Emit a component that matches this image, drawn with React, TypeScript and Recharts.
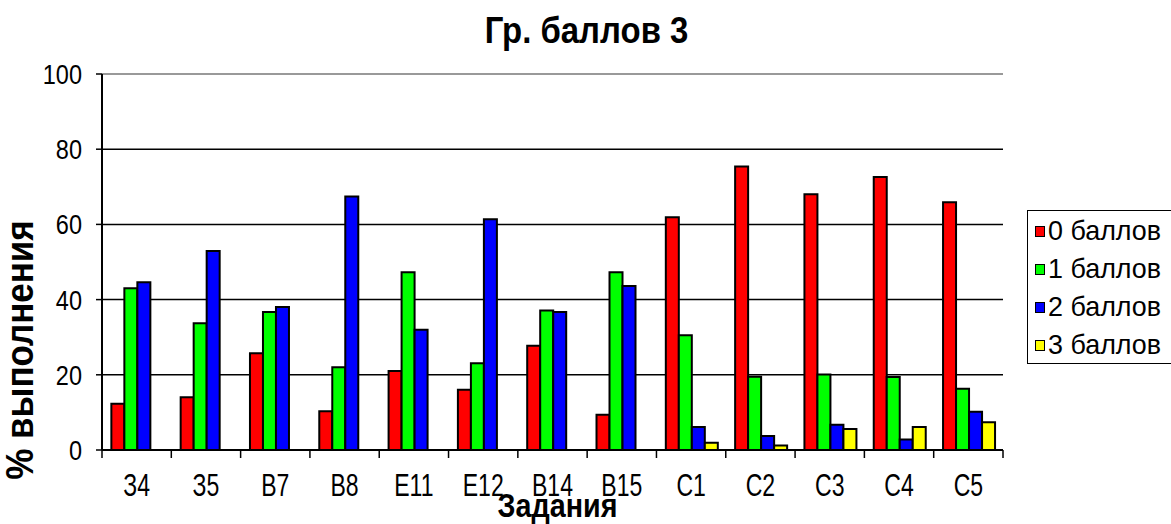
import { BarChart, Bar, XAxis, YAxis, CartesianGrid, Legend, ReferenceLine } from 'recharts';

const tasks = ['З4', 'З5', 'В7', 'В8', 'Е11', 'Е12', 'В14', 'В15', 'С1', 'С2', 'С3', 'С4', 'С5'];
const score0 = [12.3, 14.0, 25.7, 10.3, 21.0, 16.0, 27.7, 9.4, 61.9, 75.4, 68.0, 72.6, 65.9];
const score1 = [43.0, 33.7, 36.7, 22.0, 47.3, 23.1, 37.1, 47.3, 30.5, 19.5, 20.1, 19.4, 16.3];
const score2 = [44.6, 52.9, 38.0, 67.4, 32.0, 61.4, 36.7, 43.6, 6.1, 3.7, 6.7, 2.8, 10.2];
const score3 = [0, 0, 0, 0, 0, 0, 0, 0, 1.9, 1.2, 5.6, 6.1, 7.4];

const seriesNames = ['0 баллов', '1 баллов', '2 баллов', '3 баллов'];
const seriesColors = ['#ff0000', '#00ff00', '#0000ff', '#ffff00'];
const yTicks = [0, 20, 40, 60, 80, 100];
const gridValues = [20, 40, 60, 80];

const data = tasks.map((task, i) => ({
  task,
  s0: score0[i],
  s1: score1[i],
  s2: score2[i],
  s3: score3[i],
}));

const FONT = '"Liberation Sans", Arial, sans-serif';

// label in the middle of the category, separator marks on its borders
function XTick({ x, y, payload, index, visibleTicksCount }: any) {
  const half = payload.offset ?? 0;
  const last = index === visibleTicksCount - 1;
  return (
    <g>
      <line x1={x - half} x2={x - half} y1={y} y2={y + 8} stroke="#000" strokeWidth={1.5} />
      {last && <line x1={x + half} x2={x + half} y1={y} y2={y + 8} stroke="#000" strokeWidth={1.5} />}
      <text
        transform={`translate(${x},${y}) scale(0.72,1)`}
        textAnchor="middle"
        dy={46}
        fontSize={32}
        fontFamily={FONT}
        fill="#000"
      >
        {payload.value}
      </text>
    </g>
  );
}

function YTick({ x, y, payload }: any) {
  return (
    <text
      transform={`translate(${x},${y}) scale(0.84,1)`}
      textAnchor="end"
      dy="0.36em"
      fontSize={28}
      fontFamily={FONT}
      fill="#000"
    >
      {payload.value}
    </text>
  );
}

function YTitle({ viewBox }: any) {
  const cx = viewBox.x + 33;
  const cy = viewBox.y + viewBox.height / 2 + 88;
  return (
    <text
      transform={`translate(${cx},${cy}) rotate(-90) scale(0.92,1)`}
      textAnchor="middle"
      fontSize={38}
      fontWeight="bold"
      fontFamily={FONT}
      fill="#000"
    >
      % выполнения
    </text>
  );
}

function XTitle({ viewBox }: any) {
  const cx = viewBox.x + viewBox.width / 2 + 5;
  return (
    <text
      transform={`translate(${cx},${viewBox.y + 67}) scale(0.87,1)`}
      textAnchor="middle"
      fontSize={33}
      fontWeight="bold"
      fontFamily={FONT}
      fill="#000"
    >
      Задания
    </text>
  );
}

function LegendBox({ payload }: any) {
  return (
    <div
      style={{
        border: '1px solid #000',
        background: '#fff',
        width: 200,
        height: 154,
        paddingTop: 1,
        boxSizing: 'border-box',
        fontFamily: FONT,
      }}
    >
      {(payload || []).map((p: any) => (
        <div key={p.value} style={{ display: 'flex', alignItems: 'center', height: 38 }}>
          <span
            style={{
              display: 'inline-block',
              width: 8,
              height: 9,
              marginLeft: 7,
              background: p.color,
              border: '1.5px solid #000',
            }}
          />
          <span
            style={{
              fontSize: 28,
              marginLeft: 3,
              color: '#000',
              whiteSpace: 'nowrap',
              display: 'inline-block',
              transform: 'scaleX(0.96)',
              transformOrigin: 'left center',
            }}
          >
            {p.value}
          </span>
        </div>
      ))}
    </div>
  );
}

export default function App() {
  return (
    <div
      style={{
        position: 'absolute',
        left: 0,
        top: 0,
        width: 1171,
        height: 524,
        overflow: 'hidden',
        background: '#fff',
      }}
    >
      <div
        style={{
          position: 'absolute',
          top: 12,
          left: 0,
          width: 1173,
          textAlign: 'center',
          fontFamily: FONT,
          fontWeight: 'bold',
          fontSize: 37,
          lineHeight: '37px',
          transform: 'scaleX(0.89)',
          color: '#000',
        }}
      >
        Гр. баллов 3
      </div>
      <BarChart
        width={1171}
        height={524}
        data={data}
        margin={{ top: 74, right: 168, bottom: 0, left: 0 }}
        barCategoryGap="13.5%"
        barGap={0}
      >
        <CartesianGrid vertical={false} horizontalValues={gridValues} stroke="#000" strokeWidth={1.5} />
        <XAxis
          dataKey="task"
          height={74}
          interval={0}
          tickLine={false}
          tickSize={0}
          tickMargin={0}
          axisLine={{ stroke: '#000', strokeWidth: 2 }}
          tick={<XTick />}
          label={<XTitle />}
        />
        <YAxis
          width={102}
          domain={[0, 100]}
          ticks={yTicks}
          interval={0}
          tickSize={6}
          tickMargin={14}
          tickLine={{ stroke: '#000', strokeWidth: 1.5 }}
          axisLine={{ stroke: '#000', strokeWidth: 2 }}
          tick={<YTick />}
          label={<YTitle />}
        />
        <YAxis
          yAxisId="r"
          orientation="right"
          width={0}
          tick={false}
          tickLine={false}
          axisLine={{ stroke: '#999', strokeWidth: 2 }}
        />
        <ReferenceLine y={100} stroke="#999" strokeWidth={2} />
        <Legend
          layout="vertical"
          verticalAlign="middle"
          align="center"
          content={<LegendBox />}
          wrapperStyle={{ left: 1027, top: 210, width: 200 }}
        />
        <Bar dataKey="s0" name={seriesNames[0]} fill={seriesColors[0]} stroke="#000" strokeWidth={2} isAnimationActive={false} />
        <Bar dataKey="s1" name={seriesNames[1]} fill={seriesColors[1]} stroke="#000" strokeWidth={2} isAnimationActive={false} />
        <Bar dataKey="s2" name={seriesNames[2]} fill={seriesColors[2]} stroke="#000" strokeWidth={2} isAnimationActive={false} />
        <Bar dataKey="s3" name={seriesNames[3]} fill={seriesColors[3]} stroke="#000" strokeWidth={2} isAnimationActive={false} />
      </BarChart>
    </div>
  );
}
